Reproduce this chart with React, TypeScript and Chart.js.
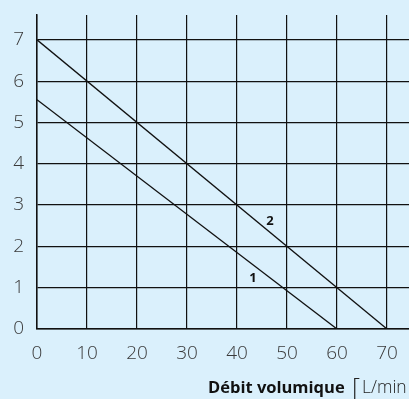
import React, { useEffect, useRef } from "react";
import { Chart, registerables } from "chart.js";

Chart.register(...registerables);

const xTicks = [0, 10, 20, 30, 40, 50, 60, 70];
const yTicks = [0, 1, 2, 3, 4, 5, 6, 7];
const series1 = [
  { x: 0, y: 5.55 },
  { x: 60, y: 0 },
];
const series2 = [
  { x: 0, y: 7 },
  { x: 70, y: 0 },
];
const lineLabels = [
  { text: "1", x: 43.2, y: 1.23 },
  { text: "2", x: 46.6, y: 2.61 },
];
const titleBold = "Débit volumique";
const titleRest = "L/min";

const BG = "#daf0fc";
const FONT = "'Open Sans', Lato, sans-serif";

const overlay = {
  id: "overlay",
  beforeDraw(chart: any) {
    const { ctx, width, height } = chart;
    ctx.save();
    ctx.fillStyle = BG;
    ctx.fillRect(0, 0, width, height);
    ctx.restore();
  },
  afterDraw(chart: any) {
    const { ctx } = chart;
    const xs = chart.scales.x;
    const ys = chart.scales.y;
    ctx.save();
    ctx.fillStyle = "#111";
    ctx.font = `bold 13px ${FONT}`;
    ctx.textAlign = "center";
    ctx.textBaseline = "middle";
    for (const l of lineLabels) {
      ctx.fillText(l.text, xs.getPixelForValue(l.x), ys.getPixelForValue(l.y));
    }
    // axis title
    const tx = 208;
    const ty = 393;
    ctx.textAlign = "left";
    ctx.textBaseline = "alphabetic";
    ctx.font = `bold 16.5px ${FONT}`;
    ctx.fillText(titleBold, tx, ty);
    ctx.font = `300 25px ${FONT}`;
    ctx.fillStyle = "#222";
    ctx.fillText("[", 352, ty + 3);
    ctx.font = `300 17.5px ${FONT}`;
    ctx.fillText(titleRest, 362, ty);
    ctx.restore();
  },
};

export default function App() {
  const ref = useRef<HTMLCanvasElement | null>(null);
  useEffect(() => {
    document.body.style.margin = "0";
    const canvas = ref.current!;
    const chart = new Chart(canvas, {
      type: "scatter",
      data: {
        datasets: [
          {
            label: "1",
            data: series1,
            showLine: true,
            borderColor: "#111",
            borderWidth: 1.3,
            pointRadius: 0,
          },
          {
            label: "2",
            data: series2,
            showLine: true,
            borderColor: "#111",
            borderWidth: 1.3,
            pointRadius: 0,
          },
        ],
      },
      options: {
        animation: false,
        responsive: false,
        maintainAspectRatio: false,
        layout: { padding: { top: 15, right: 0, left: 0, bottom: 0 } },
        plugins: {
          legend: { display: false },
          tooltip: { enabled: false },
        },
        scales: {
          x: {
            type: "linear",
            min: 0,
            max: 74.4,
            afterBuildTicks: (axis: any) => {
              axis.ticks = xTicks.map((v) => ({ value: v }));
            },
            afterFit: (scale: any) => {
              scale.height = 70;
              scale.paddingLeft = 0;
              scale.paddingRight = 0;
            },
            grid: { color: "#111", lineWidth: 1.2, drawTicks: false },
            border: { color: "#111", width: 1.5 },
            ticks: {
              padding: 13,
              color: "#3a3a3a",
              font: { family: FONT, size: 19, weight: "300" },
            },
          },
          y: {
            type: "linear",
            min: 0,
            max: 7.6,
            afterBuildTicks: (axis: any) => {
              axis.ticks = yTicks.map((v) => ({ value: v }));
            },
            afterFit: (scale: any) => {
              scale.width = 37;
              scale.paddingTop = 0;
              scale.paddingBottom = 0;
            },
            grid: { color: "#111", lineWidth: 1.2, drawTicks: false },
            border: { color: "#111", width: 1.5 },
            ticks: {
              padding: 13,
              color: "#3a3a3a",
              font: { family: FONT, size: 19, weight: "300" },
            },
          },
        },
      },
      plugins: [overlay],
    });
    return () => chart.destroy();
  }, []);
  return (
    <div style={{ position: "absolute", left: 0, top: 0, width: 409, height: 399 }}>
      <canvas ref={ref} width={409} height={399} style={{ display: "block" }} />
    </div>
  );
}
